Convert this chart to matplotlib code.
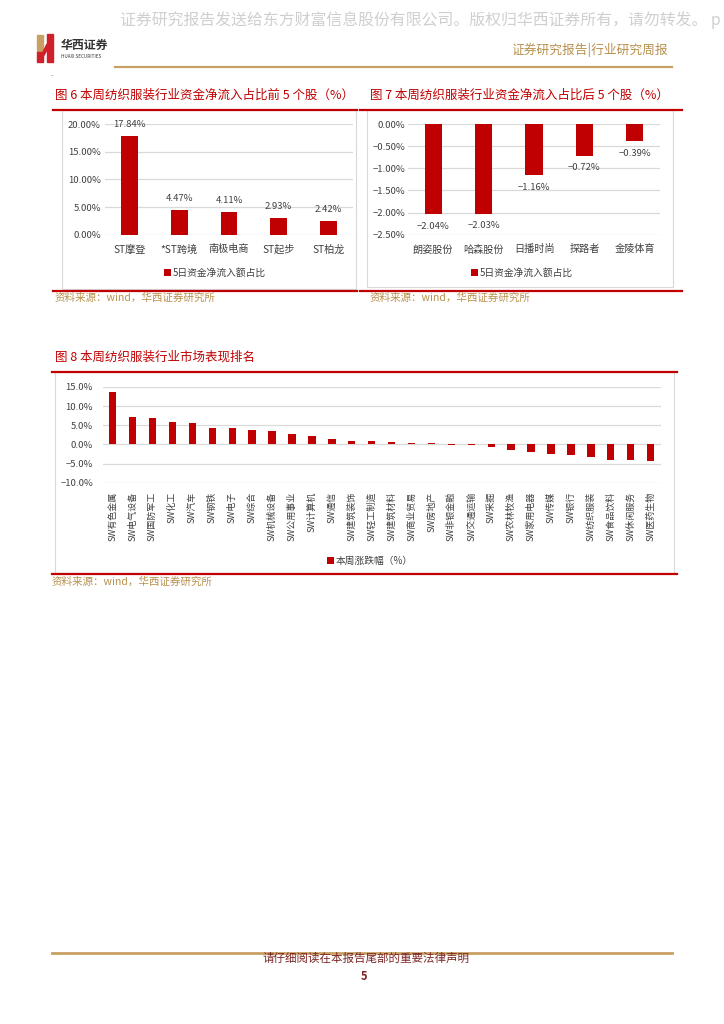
import matplotlib.pyplot as plt
from matplotlib.patches import Rectangle, Polygon
from matplotlib.lines import Line2D

plt.rcParams['font.family'] = ['Noto Sans CJK SC', 'DejaVu Sans']

# 图6 资金净流入占比前5
top5_names = ['ST摩登', '*ST跨境', '南极电商', 'ST起步', 'ST柏龙']
top5_vals = [17.84, 4.47, 4.11, 2.93, 2.42]

# 图7 资金净流入占比后5
bot5_names = ['朗姿股份', '哈森股份', '日播时尚', '探路者', '金陵体育']
bot5_vals = [-2.04, -2.03, -1.16, -0.72, -0.39]

# 图8 申万行业本周涨跌幅
sw_names = ['SW有色金属', 'SW电气设备', 'SW国防军工', 'SW化工', 'SW汽车', 'SW钢铁',
            'SW电子', 'SW综合', 'SW机械设备', 'SW公用事业', 'SW计算机', 'SW通信',
            'SW建筑装饰', 'SW轻工制造', 'SW建筑材料', 'SW商业贸易', 'SW房地产',
            'SW非银金融', 'SW交通运输', 'SW采掘', 'SW农林牧渔', 'SW家用电器',
            'SW传媒', 'SW银行', 'SW纺织服装', 'SW食品饮料', 'SW休闲服务', 'SW医药生物']
sw_vals = [13.7, 7.1, 6.8, 5.9, 5.5, 4.4, 4.3, 3.7, 3.6, 2.7, 2.1, 1.3,
           0.9, 0.8, 0.7, 0.35, 0.3, -0.2, -0.25, -0.8, -1.5, -1.9,
           -2.5, -2.7, -3.2, -4.0, -4.2, -4.3]

W, H = 724, 1024
RED = '#C00000'
GOLD = '#B8914E'
GRID = '#D9D9D9'
TXT = '#404040'

fig = plt.figure(figsize=(W / 100, H / 100), dpi=100)


def fx(x):
    return x / W


def fy(y):
    return 1 - y / H


def box(l, t, r, b):
    return [l / W, 1 - b / H, (r - l) / W, (b - t) / H]


def hline(x0, x1, y, color, lw):
    fig.add_artist(Line2D([fx(x0), fx(x1)], [fy(y), fy(y)], color=color, lw=lw,
                          transform=fig.transFigure))


def frame(l, t, r, b):
    fig.add_artist(Rectangle((fx(l), fy(b)), (r - l) / W, (b - t) / H, fill=False,
                             ec=GRID, lw=0.8, transform=fig.transFigure))


def pct(v, nd):
    s = f'{abs(v):.{nd}f}%'
    return ('−' + s) if v < 0 else s


def style(ax):
    for s in ax.spines.values():
        s.set_visible(False)
    ax.grid(axis='y', color=GRID, lw=0.9)
    ax.set_axisbelow(True)
    ax.tick_params(length=0, colors=TXT)


# ---- 页眉 ----
fig.text(fx(120), fy(20), '证券研究报告发送给东方财富信息股份有限公司。版权归华西证券所有，请勿转发。 p',
         fontsize=11.4, color='#CFCFCF', va='center', ha='left')
fig.add_artist(Rectangle((fx(37), fy(52)), 6 / W, 17 / H, color='#C9A063', transform=fig.transFigure))
fig.add_artist(Rectangle((fx(37), fy(62)), 6 / W, 10 / H, color='#D0202A', transform=fig.transFigure))
fig.add_artist(Rectangle((fx(47), fy(62)), 6 / W, 28 / H, color='#D0202A', transform=fig.transFigure))
fig.add_artist(Polygon([(fx(43), fy(52)), (fx(47), fy(44)), (fx(47), fy(50)), (fx(43), fy(57))],
                       color='#D0202A', transform=fig.transFigure))
fig.text(fx(61), fy(45), '华西证券', fontsize=8.6, color='#333333', weight='bold', va='center')
fig.text(fx(61), fy(57), 'HUAXI SECURITIES', fontsize=3.3, color='#333333', va='center')
fig.text(fx(668), fy(50), '证券研究报告|行业研究周报', fontsize=9.2, color=GOLD, ha='right', va='center')
hline(115, 672, 67, '#C9A063', 1.6)
fig.text(fx(50), fy(76), '.', fontsize=6, color='#333333')

# ---- 图6 ----
fig.text(fx(55), fy(95), '图 6 本周纺织服装行业资金净流入占比前 5 个股（%）', fontsize=9, color=RED, va='center')
frame(62, 110, 356, 289)
hline(53, 357, 109.5, RED, 1.6)
hline(53, 357, 291, RED, 1.6)
fig.text(fx(55), fy(298), '资料来源：wind，华西证券研究所', fontsize=7.6, color=GOLD, va='center')

ax6 = fig.add_axes(box(105, 124, 353, 234.7))
ax6.bar(range(len(top5_vals)), top5_vals, width=0.34, color=RED, label='5日资金净流入额占比')
ax6.set_xlim(-0.5, len(top5_vals) - 0.5)
ax6.set_ylim(0, 20)
ax6.set_yticks([0, 5, 10, 15, 20])
ax6.set_yticklabels([pct(v, 2) for v in [0, 5, 10, 15, 20]], fontsize=6.8)
ax6.set_xticks(range(len(top5_names)))
ax6.set_xticklabels(top5_names, fontsize=7.3)
style(ax6)
ax6.tick_params(axis='x', pad=7)
ax6.tick_params(axis='y', pad=3)
for i, v in enumerate(top5_vals):
    ax6.annotate(pct(v, 2), (i, v), xytext=(0, 8.3), textcoords='offset points',
                 ha='center', va='center', fontsize=6.8, color=TXT)
ax6.legend(loc='center', bbox_to_anchor=(fx(215), fy(273)), bbox_transform=fig.transFigure,
           frameon=False, fontsize=7, handlelength=0.7, handleheight=0.7, handletextpad=0.2,
           labelcolor=TXT)

# ---- 图7 ----
fig.text(fx(370), fy(95), '图 7 本周纺织服装行业资金净流入占比后 5 个股（%）', fontsize=9, color=RED, va='center')
frame(367, 110, 673, 287)
hline(360, 682, 109.5, RED, 1.6)
hline(360, 682, 291, RED, 1.6)
fig.text(fx(370), fy(298), '资料来源：wind，华西证券研究所', fontsize=7.6, color=GOLD, va='center')

ax7 = fig.add_axes(box(408, 124, 660, 234.7))
ax7.bar(range(len(bot5_vals)), bot5_vals, width=0.34, color=RED, label='5日资金净流入额占比')
ax7.set_xlim(-0.5, len(bot5_vals) - 0.5)
ax7.set_ylim(-2.5, 0)
yt7 = [0, -0.5, -1.0, -1.5, -2.0, -2.5]
ax7.set_yticks(yt7)
ax7.set_yticklabels([pct(v, 2) for v in yt7], fontsize=6.8)
ax7.set_xticks(range(len(bot5_names)))
ax7.set_xticklabels(bot5_names, fontsize=7.3)
style(ax7)
ax7.tick_params(axis='x', pad=7)
ax7.tick_params(axis='y', pad=2)
for i, v in enumerate(bot5_vals):
    ax7.annotate(pct(v, 2), (i, v), xytext=(0, -8.6), textcoords='offset points',
                 ha='center', va='center', fontsize=6.8, color=TXT)
ax7.legend(loc='center', bbox_to_anchor=(fx(522), fy(273)), bbox_transform=fig.transFigure,
           frameon=False, fontsize=7, handlelength=0.7, handleheight=0.7, handletextpad=0.2,
           labelcolor=TXT)

# ---- 图8 ----
fig.text(fx(55), fy(357), '图 8 本周纺织服装行业市场表现排名', fontsize=9, color=RED, va='center')
frame(55, 372, 674, 573)
hline(52, 677, 372, RED, 1.6)
hline(52, 677, 574, RED, 1.6)
fig.text(fx(52), fy(582), '资料来源：wind，华西证券研究所', fontsize=7.6, color=GOLD, va='center')

ax8 = fig.add_axes(box(102.7, 387, 660.6, 482.7))
ax8.bar(range(len(sw_vals)), sw_vals, width=0.37, color=RED, label='本周涨跌幅（%）')
ax8.set_xlim(-0.5, len(sw_vals) - 0.5)
ax8.set_ylim(-10, 15)
yt8 = [15, 10, 5, 0, -5, -10]
ax8.set_yticks(yt8)
ax8.set_yticklabels([pct(v, 1) for v in yt8], fontsize=6.8)
ax8.set_xticks(range(len(sw_names)))
ax8.set_xticklabels(sw_names, fontsize=6.5, rotation=90)
style(ax8)
ax8.tick_params(axis='x', pad=6.5)
ax8.tick_params(axis='y', pad=7)
ax8.legend(loc='center', bbox_to_anchor=(fx(370), fy(561)), bbox_transform=fig.transFigure,
           frameon=False, fontsize=7, handlelength=0.7, handleheight=0.7, handletextpad=0.2,
           labelcolor=TXT)

# ---- 页脚 ----
hline(52, 672, 953, '#C9A063', 2)
fig.text(fx(366), fy(958), '请仔细阅读在本报告尾部的重要法律声明', fontsize=8.3, color='#7B2525',
         ha='center', va='center')
fig.text(fx(364), fy(976), '5', fontsize=8, color='#7B2525', weight='bold', ha='center', va='center')

fig.savefig('out.png', dpi=100)
